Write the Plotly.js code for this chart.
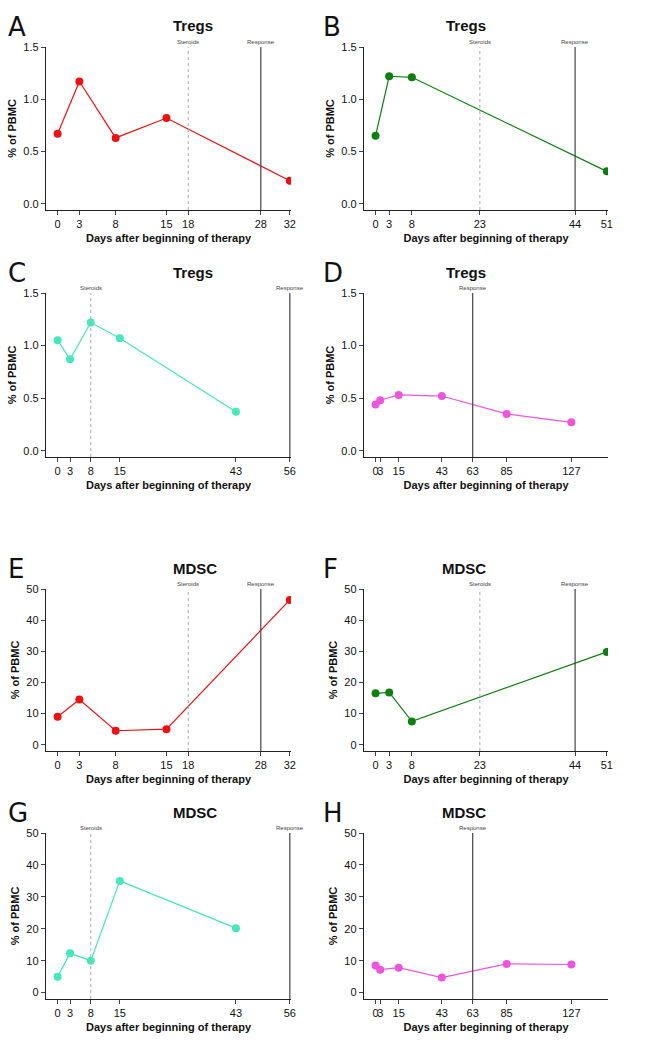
<!DOCTYPE html><html><head><script src="https://cdn.plot.ly/plotly-3.0.1.min.js"></script></head><body style="margin:0"><div id="g" style="width:650px;height:1049px"></div><script>
const daysA=[0,3,8,15,32], tregA=[0.67,1.17,0.63,0.82,0.22], mdscA=[9,14.5,4.5,5,46.5];
const daysB=[0,3,8,51], tregB=[0.65,1.22,1.21,0.31], mdscB=[16.5,16.8,7.5,29.8];
const daysC=[0,3,8,15,43], tregC=[1.05,0.87,1.22,1.07,0.37], mdscC=[5,12.3,10,35,20.2];
const daysD=[0,3,15,43,85,127], tregD=[0.44,0.48,0.53,0.52,0.35,0.27], mdscD=[8.5,7.2,7.8,4.7,9,8.8];
const ticksA=[0,3,8,15,18,28,32], ticksB=[0,3,8,23,44,51], ticksC=[0,3,8,15,43,56], ticksD=[0,3,15,43,63,85,127];
const ticksDlbl=['0','3','15','43','63','85','127'];
const steroids={A:18,B:23,C:8,D:null}, response={A:28,B:44,C:56,D:63};
const colors={A:'#ee1111',B:'#0f7f0f',C:'#44e8bb',D:'#ee55dd'};
const FONT='Liberation Sans Narrow, Arial Narrow, Liberation Sans, Arial';
const panels=[
 {L:'A',p:'A',d:daysA,v:tregA,t:'Tregs',col:0,top:47,bot:204,xmax:32,ymax:1.5,dt:0.5,tk:ticksA},
 {L:'B',p:'B',d:daysB,v:tregB,t:'Tregs',col:1,top:47,bot:204,xmax:51,ymax:1.5,dt:0.5,tk:ticksB},
 {L:'C',p:'C',d:daysC,v:tregC,t:'Tregs',col:0,top:293,bot:451,xmax:56,ymax:1.5,dt:0.5,tk:ticksC},
 {L:'D',p:'D',d:daysD,v:tregD,t:'Tregs',col:1,top:293,bot:451,xmax:150,ymax:1.5,dt:0.5,tk:ticksD},
 {L:'E',p:'A',d:daysA,v:mdscA,t:'MDSC',col:0,top:589,bot:745,xmax:32,ymax:50,dt:10,tk:ticksA},
 {L:'F',p:'B',d:daysB,v:mdscB,t:'MDSC',col:1,top:589,bot:745,xmax:51,ymax:50,dt:10,tk:ticksB},
 {L:'G',p:'C',d:daysC,v:mdscC,t:'MDSC',col:0,top:833,bot:993,xmax:56,ymax:50,dt:10,tk:ticksC},
 {L:'H',p:'D',d:daysD,v:mdscD,t:'MDSC',col:1,top:833,bot:993,xmax:150,ymax:50,dt:10,tk:ticksD}];
const H=1049, traces=[], layout={width:650,height:H,margin:{l:0,r:0,t:0,b:0},showlegend:false,plot_bgcolor:'white',paper_bgcolor:'white',font:{family:FONT,color:'#111'},annotations:[],shapes:[]};
panels.forEach((P,i)=>{
 const n=i+1, xa='x'+n, ya='y'+n, xk='xaxis'+n, yk='yaxis'+n;
 const x0=P.col?369:51, x1=P.col?607:290;
 const pad=P.xmax*0.02, ypad=P.ymax*0.04;
 const top=P.top;
 layout[xk]={domain:[(x0-5)/650,(x1+1)/650],range:[-pad*2.5,P.xmax*1.005],anchor:ya,showgrid:false,zeroline:false,showline:true,linecolor:'#222',linewidth:1.2,ticks:'outside',ticklen:4,tickangle:0,tickvals:P.tk,ticktext:P.tk.map(String),tickfont:{size:11,family:FONT},
  title:{text:'<b>Days after beginning of therapy</b>',font:{size:11,family:FONT},standoff:4}};
 layout[yk]={domain:[1-(P.bot+6)/H,1-top/H],range:[-ypad,P.ymax],anchor:xa,showgrid:false,zeroline:false,showline:true,linecolor:'#222',linewidth:1.2,ticks:'outside',ticklen:4,dtick:P.dt,tickformat:P.dt<1?'.1f':'d',tickfont:{size:11,family:FONT},
  title:{text:'<b>% of PBMC</b>',font:{size:11,family:FONT},standoff:4}};
 traces.push({x:P.d,y:P.v,xaxis:xa,yaxis:ya,mode:'lines+markers',line:{color:colors[P.p],width:1.2},marker:{color:colors[P.p],size:8}});
 const s=steroids[P.p], r=response[P.p];
 if(s!==null){layout.shapes.push({type:'line',xref:xa,yref:ya,x0:s,x1:s,y0:-ypad,y1:P.ymax,line:{color:'#aaa',width:1,dash:'dot'}});
  layout.annotations.push({xref:xa,yref:ya,x:s,y:P.ymax,text:'Steroids',showarrow:false,yanchor:'bottom',font:{size:6,color:'#444'}});}
 layout.shapes.push({type:'line',xref:xa,yref:ya,x0:r,x1:r,y0:-ypad,y1:P.ymax,line:{color:'#444',width:1.2}});
 layout.annotations.push({xref:xa,yref:ya,x:r,y:P.ymax,text:'Response',showarrow:false,yanchor:'bottom',font:{size:6,color:'#444'}});
 layout.annotations.push({xref:'paper',yref:'paper',x:((x0+x1)/2)/650,y:1-(top-21)/H,text:'<b>'+P.t+'</b>',showarrow:false,yanchor:'middle',font:{size:15,family:'Liberation Sans, Arial'}});
 layout.annotations.push({xref:'paper',yref:'paper',x:(P.col?321:6)/650,y:1-(top-20)/H,text:P.L,showarrow:false,xanchor:'left',yanchor:'middle',font:{size:26,family:'DejaVu Sans'}});
});
Plotly.newPlot('g',traces,layout,{staticPlot:true});
</script></body></html>
